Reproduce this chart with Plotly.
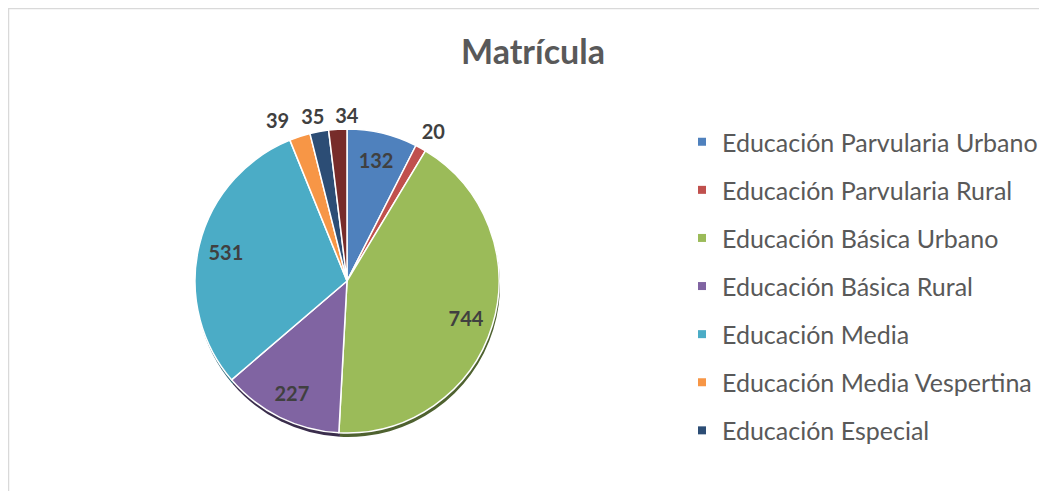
import plotly.graph_objects as go

# ---- data ----
labels = ["Educación Parvularia Urbano", "Educación Parvularia Rural", "Educación Básica Urbano",
          "Educación Básica Rural", "Educación Media", "Educación Media Vespertina",
          "Educación Especial", "Otros"]
values = [132, 20, 744, 227, 531, 39, 35, 34]
legend_labels = labels[:7]

# ---- styles ----
colors = ["#4F81BD", "#C0504D", "#9BBB59", "#8064A2", "#4BACC6", "#F79646", "#2C4D75", "#772C2A"]
shadow_colors = ["#2a4566", "#6b2b29", "#4f6230", "#3a2d4c", "#2a6070", "#8a5325", "#18293f", "#3f1716"]
big = [v > 100 for v in values]
# outside-label nudges (Excel spreads the small labels): ring radius (px) and angular offset (deg)
ring_r = [0, 179, 0, 0, 0, 188, 179, 175]
rot_off = [0, 1.0, 0, 0, 0, -5.2, -1.2, 3.2]

OFF = 8                      # browser body margin
W, H = 1047 - OFF, 491 - OFF  # figure size
cx, cy, r = 347 - OFF, 281 - OFF, 152


def dom(rad, dx=0, dy=0):
    return dict(x=[(cx - rad + dx) / W, (cx + rad + dx) / W],
                y=[(H - cy - rad - dy) / H, (H - cy + rad - dy) / H])


FONT = "Lato"
LBL = dict(family=FONT, size=20, color="#404040", weight="bold")
TRANSP = ["rgba(0,0,0,0)"] * len(values)
fig = go.Figure()

# shadow
fig.add_trace(go.Pie(values=values, labels=labels, sort=False, direction="clockwise",
                     marker=dict(colors=shadow_colors, line=dict(width=0)),
                     textinfo="none", hoverinfo="skip", showlegend=False, domain=dom(r, 1, 4)))
# main pie
fig.add_trace(go.Pie(values=values, labels=labels, sort=False, direction="clockwise",
                     marker=dict(colors=colors, line=dict(color="white", width=1.5)),
                     textinfo="none", showlegend=False, domain=dom(r)))
# inside labels (transparent ring, labels at ~0.82 r)
fig.add_trace(go.Pie(values=values, labels=labels, sort=False, direction="clockwise", hole=0.64,
                     marker=dict(colors=TRANSP, line=dict(width=0)),
                     text=[str(v) if b else "" for v, b in zip(values, big)],
                     textinfo="text", textposition="inside",
                     insidetextorientation="horizontal", textfont=LBL,
                     hoverinfo="skip", showlegend=False, domain=dom(r)))
# outside labels: one transparent ring per small slice
for i, (v, b) in enumerate(zip(values, big)):
    if b:
        continue
    fig.add_trace(go.Pie(values=values, labels=labels, sort=False, direction="clockwise",
                         rotation=rot_off[i], hole=r / ring_r[i],
                         marker=dict(colors=TRANSP, line=dict(width=0)),
                         text=[str(vv) if j == i else "" for j, vv in enumerate(values)],
                         textinfo="text", textposition="inside",
                         insidetextorientation="horizontal", textfont=LBL,
                         hoverinfo="skip", showlegend=False, domain=dom(ring_r[i])))

# legend entries
for i, lab in enumerate(legend_labels):
    fig.add_trace(go.Scatter(x=[None], y=[None], mode="markers", name=lab, legendgroup=lab,
                             marker=dict(symbol="square", size=8, color=colors[i])))

fig.update_layout(
    width=W, height=H,
    margin=dict(l=0, r=0, t=0, b=0),
    paper_bgcolor="white", plot_bgcolor="white",
    xaxis=dict(visible=False), yaxis=dict(visible=False),
    uniformtext=dict(minsize=20, mode="show"),
    title=dict(text="<b>Matrícula</b>", x=(533 - OFF) / W, xanchor="center",
               y=1 - (52 - OFF) / H, yanchor="middle",
               font=dict(family=FONT, size=34, color="#595959")),
    legend=dict(x=(682 - OFF) / W, xanchor="left", y=1 - (119 - OFF) / H, yanchor="top",
                font=dict(family=FONT, size=25, color="#595959"),
                tracegroupgap=12.6, bgcolor="rgba(0,0,0,0)"),
    shapes=[dict(type="rect", xref="paper", yref="paper", x0=0.5 / W, x1=1.02, y0=-0.05, y1=1 - 0.5 / H,
                 line=dict(color="#D9D9D9", width=1.5))],
    showlegend=True,
)

fig.write_html("out.html")
